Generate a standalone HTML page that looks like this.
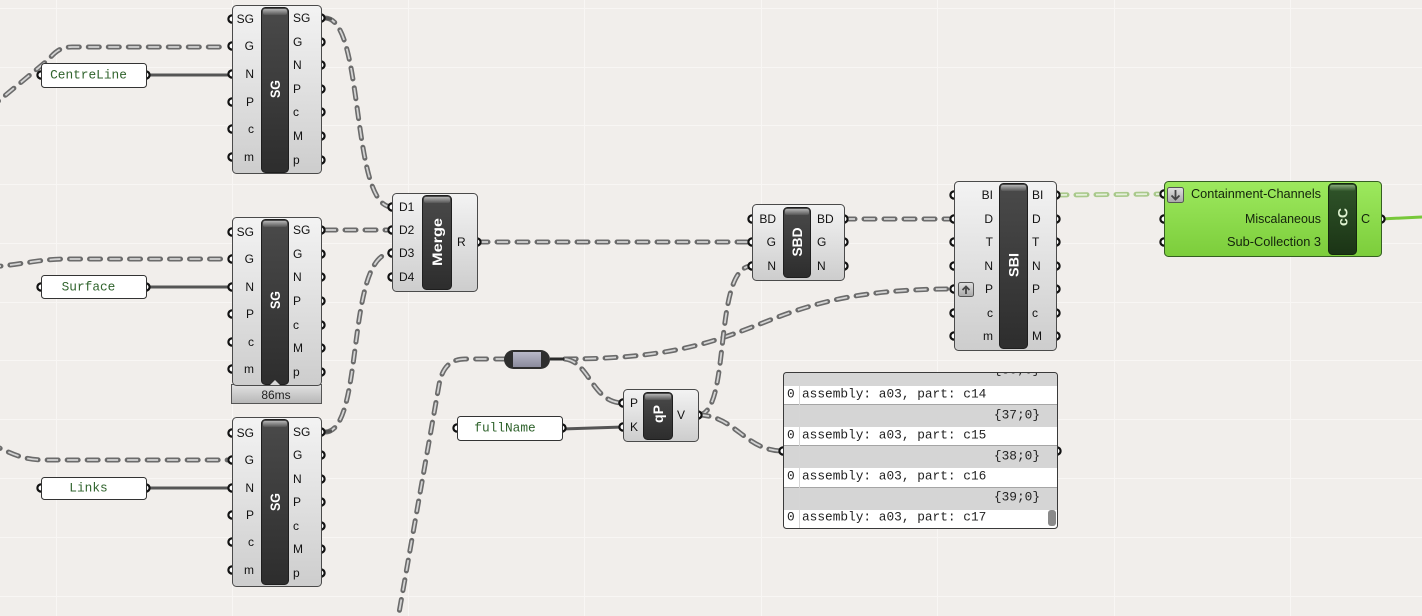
<!DOCTYPE html>
<html><head><meta charset="utf-8">
<style>
html,body{margin:0;padding:0;background:#f1eeeb;}
svg{display:block}
.wo{fill:none;stroke:#6b6b6b;stroke-width:5;stroke-dasharray:11 9;stroke-linecap:round}
.wi{fill:none;stroke:#d4d4d4;stroke-width:1.8;stroke-dasharray:11 9;stroke-linecap:butt}
.go{fill:none;stroke:#a9c98b;stroke-width:5;stroke-dasharray:11 9;stroke-linecap:round}
.gi{fill:none;stroke:#e6f0dc;stroke-width:1.8;stroke-dasharray:11 9;stroke-linecap:butt}
.sw{fill:none;stroke:#555;stroke-width:3}
.p{fill:#fff;stroke:#111;stroke-width:2.2}
.b{fill:url(#gBody);stroke:#4a4a4a;stroke-width:1}
.bar{fill:url(#gBar);stroke:#1e1e1e;stroke-width:1}
.hl{fill:url(#gHl)}
.l{font-family:"Liberation Sans",sans-serif;font-size:12px;fill:#111;dominant-baseline:central}
.r{text-anchor:end}
.t{font-family:"Liberation Sans",sans-serif;font-weight:bold;font-size:14px;fill:#fff;text-anchor:middle;dominant-baseline:central}
.m{font-family:"Liberation Mono",monospace;font-size:12.8px;fill:#2f632c;dominant-baseline:central;text-anchor:middle}
.d{font-family:"Liberation Mono",monospace;font-size:12.8px;fill:#222;dominant-baseline:central}
.grid{stroke:#f8f6f4;stroke-width:1}
</style></head>
<body>
<svg width="1422" height="616" viewBox="0 0 1422 616" xmlns="http://www.w3.org/2000/svg">
<defs>
<linearGradient id="gBody" x1="0" y1="0" x2="0" y2="1"><stop offset="0" stop-color="#f3f3f3"/><stop offset="1" stop-color="#cdcdcd"/></linearGradient>
<linearGradient id="gBar" x1="0" y1="0" x2="0" y2="1"><stop offset="0" stop-color="#4a4a4a"/><stop offset="1" stop-color="#2d2d2d"/></linearGradient>
<linearGradient id="gHl" x1="0" y1="0" x2="0" y2="1"><stop offset="0" stop-color="#b4b4b4"/><stop offset="1" stop-color="#555"/></linearGradient>
<linearGradient id="gGreen" x1="0" y1="0" x2="0" y2="1"><stop offset="0" stop-color="#9de95e"/><stop offset="1" stop-color="#7ccd3b"/></linearGradient>
<linearGradient id="gGBar" x1="0" y1="0" x2="0" y2="1"><stop offset="0" stop-color="#30552a"/><stop offset="1" stop-color="#1b3415"/></linearGradient>
<linearGradient id="gGHl" x1="0" y1="0" x2="0" y2="1"><stop offset="0" stop-color="#86a679"/><stop offset="1" stop-color="#30552a"/></linearGradient>
<linearGradient id="gTime" x1="0" y1="0" x2="0" y2="1"><stop offset="0" stop-color="#e2e2e2"/><stop offset="1" stop-color="#b6b6b6"/></linearGradient>
<linearGradient id="gRelay" x1="0" y1="0" x2="0" y2="1"><stop offset="0" stop-color="#b8b8c8"/><stop offset="1" stop-color="#8a8a9c"/></linearGradient>
<linearGradient id="gIcon" x1="0" y1="0" x2="0" y2="1"><stop offset="0" stop-color="#e0e0e0"/><stop offset="1" stop-color="#a8a8a8"/></linearGradient>
<clipPath id="cp"><rect x="783" y="372" width="274" height="156" rx="3"/></clipPath>
<path id="w1" d="M-10,108 L48,60 C55,52 60,47 72,47 L228,47"/>
<path id="w2" d="M325,18 C365,18 350,207 392,207"/>
<path id="w3" d="M325,230 L392,230"/>
<path id="w4" d="M325,432 C365,432 345,253 392,253"/>
<path id="w5" d="M-10,267 C20,265 40,259 65,259 L228,259"/>
<path id="w6" d="M-10,444 C10,452 20,460 45,460 L228,460"/>
<path id="w7" d="M477,242 L752,242"/>
<path id="w8" d="M844,219 L954,219"/>
<path id="w9" d="M565,359 C775,359 745,289 954,289"/>
<path id="w10" d="M565,359 C590,362 592,403 623,403"/>
<path id="w11" d="M396,630 L439,385 C442,368 450,359 465,359 L504,359"/>
<path id="w12" d="M698,415 C732,415 712,266 752,266"/>
<path id="w13" d="M698,415 C735,415 745,451 783,451"/>
<path id="w14" d="M1056,195 L1164,194"/>
</defs>

<rect width="1422" height="616" fill="#f1eeeb"/>
<g class="grid">
<line x1="56.5" y1="0" x2="56.5" y2="616"/><line x1="232.5" y1="0" x2="232.5" y2="616"/>
<line x1="408.5" y1="0" x2="408.5" y2="616"/><line x1="584.5" y1="0" x2="584.5" y2="616"/>
<line x1="761.5" y1="0" x2="761.5" y2="616"/><line x1="937.5" y1="0" x2="937.5" y2="616"/>
<line x1="1114.5" y1="0" x2="1114.5" y2="616"/><line x1="1290.5" y1="0" x2="1290.5" y2="616"/>
<line x1="0" y1="8.5" x2="1422" y2="8.5"/><line x1="0" y1="67.5" x2="1422" y2="67.5"/>
<line x1="0" y1="125.5" x2="1422" y2="125.5"/><line x1="0" y1="184.5" x2="1422" y2="184.5"/>
<line x1="0" y1="243.5" x2="1422" y2="243.5"/><line x1="0" y1="302.5" x2="1422" y2="302.5"/>
<line x1="0" y1="360.5" x2="1422" y2="360.5"/><line x1="0" y1="419.5" x2="1422" y2="419.5"/>
<line x1="0" y1="478.5" x2="1422" y2="478.5"/><line x1="0" y1="537.5" x2="1422" y2="537.5"/>
<line x1="0" y1="596.5" x2="1422" y2="596.5"/>
</g>

<path class="sw" d="M146,75 L232,75"/>
<path class="sw" d="M146,287 L232,287"/>
<path class="sw" d="M146,488 L232,488"/>
<path class="sw" d="M562,429 L623,427"/>
<path d="M1381,219 L1422,217" fill="none" stroke="#78c83a" stroke-width="3"/>

<g>
<use href="#w1" class="wo"/><use href="#w1" class="wi"/>
<use href="#w2" class="wo"/><use href="#w2" class="wi"/>
<use href="#w3" class="wo"/><use href="#w3" class="wi"/>
<use href="#w4" class="wo"/><use href="#w4" class="wi"/>
<use href="#w5" class="wo"/><use href="#w5" class="wi"/>
<use href="#w6" class="wo"/><use href="#w6" class="wi"/>
<use href="#w7" class="wo"/><use href="#w7" class="wi"/>
<use href="#w8" class="wo"/><use href="#w8" class="wi"/>
<use href="#w9" class="wo"/><use href="#w9" class="wi"/>
<use href="#w10" class="wo"/><use href="#w10" class="wi"/>
<use href="#w11" class="wo"/><use href="#w11" class="wi"/>
<use href="#w12" class="wo"/><use href="#w12" class="wi"/>
<use href="#w13" class="wo"/><use href="#w13" class="wi"/>
<use href="#w14" class="go"/><use href="#w14" class="gi"/>
</g>

<path d="M321,18 L332,19" stroke="#555" stroke-width="3"/>
<path d="M321,432 L332,431" stroke="#555" stroke-width="3"/>
<path d="M550,359 L564,359" stroke="#2a2a2a" stroke-width="3"/>

<g>
<circle class="p" cx="232" cy="19" r="3.6"/><circle class="p" cx="232" cy="46" r="3.6"/><circle class="p" cx="232" cy="74" r="3.6"/><circle class="p" cx="232" cy="102" r="3.6"/><circle class="p" cx="232" cy="129" r="3.6"/><circle class="p" cx="232" cy="157" r="3.6"/>
<circle class="p" cx="321" cy="18" r="3.6"/><circle class="p" cx="321" cy="42" r="3.6"/><circle class="p" cx="321" cy="65" r="3.6"/><circle class="p" cx="321" cy="89" r="3.6"/><circle class="p" cx="321" cy="112" r="3.6"/><circle class="p" cx="321" cy="136" r="3.6"/><circle class="p" cx="321" cy="160" r="3.6"/>
<circle class="p" cx="232" cy="232" r="3.6"/><circle class="p" cx="232" cy="259" r="3.6"/><circle class="p" cx="232" cy="287" r="3.6"/><circle class="p" cx="232" cy="314" r="3.6"/><circle class="p" cx="232" cy="342" r="3.6"/><circle class="p" cx="232" cy="369" r="3.6"/>
<circle class="p" cx="321" cy="230" r="3.6"/><circle class="p" cx="321" cy="254" r="3.6"/><circle class="p" cx="321" cy="277" r="3.6"/><circle class="p" cx="321" cy="301" r="3.6"/><circle class="p" cx="321" cy="325" r="3.6"/><circle class="p" cx="321" cy="348" r="3.6"/><circle class="p" cx="321" cy="372" r="3.6"/>
<circle class="p" cx="232" cy="433" r="3.6"/><circle class="p" cx="232" cy="460" r="3.6"/><circle class="p" cx="232" cy="488" r="3.6"/><circle class="p" cx="232" cy="515" r="3.6"/><circle class="p" cx="232" cy="542" r="3.6"/><circle class="p" cx="232" cy="570" r="3.6"/>
<circle class="p" cx="321" cy="432" r="3.6"/><circle class="p" cx="321" cy="455" r="3.6"/><circle class="p" cx="321" cy="479" r="3.6"/><circle class="p" cx="321" cy="502" r="3.6"/><circle class="p" cx="321" cy="526" r="3.6"/><circle class="p" cx="321" cy="549" r="3.6"/><circle class="p" cx="321" cy="573" r="3.6"/>
<circle class="p" cx="392" cy="207" r="3.6"/><circle class="p" cx="392" cy="230" r="3.6"/><circle class="p" cx="392" cy="253" r="3.6"/><circle class="p" cx="392" cy="277" r="3.6"/>
<circle class="p" cx="477" cy="242" r="3.6"/>
<circle class="p" cx="752" cy="219" r="3.6"/><circle class="p" cx="752" cy="242" r="3.6"/><circle class="p" cx="752" cy="266" r="3.6"/>
<circle class="p" cx="844" cy="219" r="3.6"/><circle class="p" cx="844" cy="242" r="3.6"/><circle class="p" cx="844" cy="266" r="3.6"/>
<circle class="p" cx="954" cy="195" r="3.6"/><circle class="p" cx="954" cy="219" r="3.6"/><circle class="p" cx="954" cy="242" r="3.6"/><circle class="p" cx="954" cy="266" r="3.6"/><circle class="p" cx="954" cy="289" r="3.6"/><circle class="p" cx="954" cy="313" r="3.6"/><circle class="p" cx="954" cy="336" r="3.6"/>
<circle class="p" cx="1056" cy="195" r="3.6"/><circle class="p" cx="1056" cy="219" r="3.6"/><circle class="p" cx="1056" cy="242" r="3.6"/><circle class="p" cx="1056" cy="266" r="3.6"/><circle class="p" cx="1056" cy="289" r="3.6"/><circle class="p" cx="1056" cy="313" r="3.6"/><circle class="p" cx="1056" cy="336" r="3.6"/>
<circle class="p" cx="1164" cy="194" r="3.6"/><circle class="p" cx="1164" cy="219" r="3.6"/><circle class="p" cx="1164" cy="242" r="3.6"/>
<circle class="p" cx="1381" cy="219" r="3.6"/>
<circle class="p" cx="623" cy="403" r="3.6"/><circle class="p" cx="623" cy="427" r="3.6"/><circle class="p" cx="698" cy="415" r="3.6"/>
<circle class="p" cx="41" cy="75" r="3.6"/><circle class="p" cx="146" cy="75" r="3.6"/>
<circle class="p" cx="41" cy="287" r="3.6"/><circle class="p" cx="146" cy="287" r="3.6"/>
<circle class="p" cx="41" cy="488" r="3.6"/><circle class="p" cx="146" cy="488" r="3.6"/>
<circle class="p" cx="457" cy="428" r="3.6"/><circle class="p" cx="562" cy="428" r="3.6"/>
<circle class="p" cx="783" cy="451" r="3.6"/><circle class="p" cx="1057" cy="451" r="3.6"/>
</g>

<!-- SG1 -->
<rect class="b" x="232.5" y="5.5" width="89" height="168" rx="4"/>
<rect class="bar" x="261.5" y="7.5" width="27" height="165" rx="4"/>
<rect class="hl" x="263" y="9" width="24" height="6" rx="2"/>
<text class="t" transform="translate(275,89) rotate(-90)" textLength="18" lengthAdjust="spacingAndGlyphs">SG</text>
<g class="l r">
<text x="254" y="19">SG</text><text x="254" y="46">G</text><text x="254" y="74">N</text><text x="254" y="102">P</text><text x="254" y="129">c</text><text x="254" y="157">m</text>
</g>
<g class="l">
<text x="293" y="18">SG</text><text x="293" y="42">G</text><text x="293" y="65">N</text><text x="293" y="89">P</text><text x="293" y="112">c</text><text x="293" y="136">M</text><text x="293" y="160">p</text>
</g>

<!-- SG2 -->
<rect x="231.5" y="384.5" width="90" height="19" fill="url(#gTime)" stroke="#555"/>
<text x="276" y="395" style="font-family:'Liberation Sans',sans-serif;font-size:12px;fill:#222;text-anchor:middle;dominant-baseline:central">86ms</text>
<rect class="b" x="232.5" y="217.5" width="89" height="168" rx="4"/>
<rect class="bar" x="261.5" y="219.5" width="27" height="165" rx="4"/>
<rect class="hl" x="263" y="221" width="24" height="6" rx="2"/>
<polygon points="270,385 275,380 280,385" fill="#d8d8d8"/>
<text class="t" transform="translate(275,300) rotate(-90)" textLength="18" lengthAdjust="spacingAndGlyphs">SG</text>
<g class="l r">
<text x="254" y="232">SG</text><text x="254" y="259">G</text><text x="254" y="287">N</text><text x="254" y="314">P</text><text x="254" y="342">c</text><text x="254" y="369">m</text>
</g>
<g class="l">
<text x="293" y="230">SG</text><text x="293" y="254">G</text><text x="293" y="277">N</text><text x="293" y="301">P</text><text x="293" y="325">c</text><text x="293" y="348">M</text><text x="293" y="372">p</text>
</g>

<!-- SG3 -->
<rect class="b" x="232.5" y="417.5" width="89" height="169" rx="4"/>
<rect class="bar" x="261.5" y="419.5" width="27" height="165" rx="4"/>
<rect class="hl" x="263" y="421" width="24" height="6" rx="2"/>
<text class="t" transform="translate(275,502) rotate(-90)" textLength="18" lengthAdjust="spacingAndGlyphs">SG</text>
<g class="l r">
<text x="254" y="433">SG</text><text x="254" y="460">G</text><text x="254" y="488">N</text><text x="254" y="515">P</text><text x="254" y="542">c</text><text x="254" y="570">m</text>
</g>
<g class="l">
<text x="293" y="432">SG</text><text x="293" y="455">G</text><text x="293" y="479">N</text><text x="293" y="502">P</text><text x="293" y="526">c</text><text x="293" y="549">M</text><text x="293" y="573">p</text>
</g>

<!-- Merge -->
<rect class="b" x="392.5" y="193.5" width="85" height="98" rx="4"/>
<rect class="bar" x="422.5" y="195.5" width="29" height="94" rx="4"/>
<rect class="hl" x="424" y="197" width="26" height="6" rx="2"/>
<text class="t" transform="translate(437,242) rotate(-90)" textLength="48" lengthAdjust="spacingAndGlyphs">Merge</text>
<g class="l">
<text x="399" y="207">D1</text><text x="399" y="230">D2</text><text x="399" y="253">D3</text><text x="399" y="277">D4</text>
<text x="457" y="242">R</text>
</g>

<!-- SBD -->
<rect class="b" x="752.5" y="204.5" width="92" height="76" rx="4"/>
<rect class="bar" x="783.5" y="207.5" width="27" height="70" rx="4"/>
<rect class="hl" x="785" y="209" width="24" height="6" rx="2"/>
<text class="t" transform="translate(797,242) rotate(-90)" textLength="29" lengthAdjust="spacingAndGlyphs">SBD</text>
<g class="l r"><text x="776" y="219">BD</text><text x="776" y="242">G</text><text x="776" y="266">N</text></g>
<g class="l"><text x="817" y="219">BD</text><text x="817" y="242">G</text><text x="817" y="266">N</text></g>

<!-- SBI -->
<rect class="b" x="954.5" y="181.5" width="102" height="169" rx="4"/>
<rect class="bar" x="999.5" y="183.5" width="28" height="165" rx="4"/>
<rect class="hl" x="1001" y="185" width="25" height="6" rx="2"/>
<text class="t" transform="translate(1013.5,265) rotate(-90)" textLength="24" lengthAdjust="spacingAndGlyphs">SBI</text>
<g class="l r">
<text x="993" y="195">BI</text><text x="993" y="219">D</text><text x="993" y="242">T</text><text x="993" y="266">N</text><text x="993" y="289">P</text><text x="993" y="313">c</text><text x="993" y="336">m</text>
</g>
<g class="l">
<text x="1032" y="195">BI</text><text x="1032" y="219">D</text><text x="1032" y="242">T</text><text x="1032" y="266">N</text><text x="1032" y="289">P</text><text x="1032" y="313">c</text><text x="1032" y="336">M</text>
</g>
<rect x="958.5" y="282.5" width="15" height="14" rx="2" fill="url(#gIcon)" stroke="#555"/>
<path d="M966,294 L966,286.5 M962.5,290 L966,286.5 L969.5,290" fill="none" stroke="#444" stroke-width="1.8"/>

<!-- cC -->
<rect x="1164.5" y="181.5" width="217" height="75" rx="4" fill="url(#gGreen)" stroke="#355f22"/>
<rect x="1328.5" y="183.5" width="28" height="71" rx="4" fill="url(#gGBar)" stroke="#14280f"/>
<rect x="1330" y="185" width="25" height="6" rx="2" fill="url(#gGHl)"/>
<text class="t" transform="translate(1342.5,217) rotate(-90)" textLength="18" lengthAdjust="spacingAndGlyphs" style="fill:#dff2d0">cC</text>
<g class="l r" style="font-size:12.6px;fill:#14240c">
<text x="1321" y="194" textLength="130" lengthAdjust="spacingAndGlyphs">Containment-Channels</text>
<text x="1321" y="219" textLength="76" lengthAdjust="spacingAndGlyphs">Miscalaneous</text>
<text x="1321" y="242" textLength="94" lengthAdjust="spacingAndGlyphs">Sub-Collection 3</text>
</g>
<text class="l" x="1361" y="219" style="font-size:12.6px;fill:#14240c">C</text>
<rect x="1167.5" y="187.5" width="16" height="15" rx="2" fill="url(#gIcon)" stroke="#555"/>
<path d="M1175.5,190 L1175.5,199 M1171.5,195.5 L1175.5,199.5 L1179.5,195.5" fill="none" stroke="#444" stroke-width="1.8"/>

<!-- qP -->
<rect class="b" x="623.5" y="389.5" width="75" height="52" rx="4"/>
<rect class="bar" x="643.5" y="392.5" width="29" height="47" rx="4"/>
<rect class="hl" x="645" y="394" width="26" height="6" rx="2"/>
<text class="t" transform="translate(658,414) rotate(-90)" textLength="18" lengthAdjust="spacingAndGlyphs">qP</text>
<g class="l"><text x="630" y="403">P</text><text x="630" y="427">K</text><text x="677" y="415">V</text></g>

<!-- Relay -->
<rect x="504" y="350" width="46" height="19" rx="9.5" fill="#2e2e2e"/>
<rect x="513" y="352" width="28" height="15" fill="url(#gRelay)"/>

<!-- Text panels -->
<rect x="41.5" y="63.5" width="105" height="24" rx="3" fill="#fff" stroke="#333"/>
<text class="m" x="88.5" y="75">CentreLine</text>
<rect x="41.5" y="275.5" width="105" height="23" rx="3" fill="#fff" stroke="#333"/>
<text class="m" x="88.5" y="287">Surface</text>
<rect x="41.5" y="477.5" width="105" height="22" rx="3" fill="#fff" stroke="#333"/>
<text class="m" x="88.5" y="488">Links</text>
<rect x="457.5" y="416.5" width="105" height="24" rx="3" fill="#fff" stroke="#333"/>
<text class="m" x="505" y="428">fullName</text>

<!-- Data panel -->
<g clip-path="url(#cp)">
<rect x="783" y="372" width="274" height="156" fill="#fff"/>
<rect x="783" y="372" width="274" height="14" fill="#d5d5d5"/>
<rect x="783" y="404" width="274" height="23" fill="#d5d5d5"/>
<rect x="783" y="445" width="274" height="23" fill="#d5d5d5"/>
<rect x="783" y="487" width="274" height="23" fill="#d5d5d5"/>
<line x1="783" y1="404.5" x2="1057" y2="404.5" stroke="#a5a5a5"/>
<line x1="783" y1="445.5" x2="1057" y2="445.5" stroke="#a5a5a5"/>
<line x1="783" y1="487.5" x2="1057" y2="487.5" stroke="#a5a5a5"/>
<line x1="799.5" y1="372" x2="799.5" y2="528" stroke="#d6d6d6"/>
<text class="d r" x="1040" y="370">{36;0}</text>
<text class="d" x="787" y="394">0</text><text class="d" x="802" y="394">assembly: a03, part: c14</text>
<text class="d r" x="1040" y="415">{37;0}</text>
<text class="d" x="787" y="435">0</text><text class="d" x="802" y="435">assembly: a03, part: c15</text>
<text class="d r" x="1040" y="456">{38;0}</text>
<text class="d" x="787" y="476">0</text><text class="d" x="802" y="476">assembly: a03, part: c16</text>
<text class="d r" x="1040" y="497">{39;0}</text>
<text class="d" x="787" y="517">0</text><text class="d" x="802" y="517">assembly: a03, part: c17</text>
<rect x="1048" y="510" width="8" height="16" rx="3" fill="#8a8a8a"/>
</g>
<rect x="783.5" y="372.5" width="274" height="156" rx="3" fill="none" stroke="#3a3a3a"/>
</svg>
</body></html>
